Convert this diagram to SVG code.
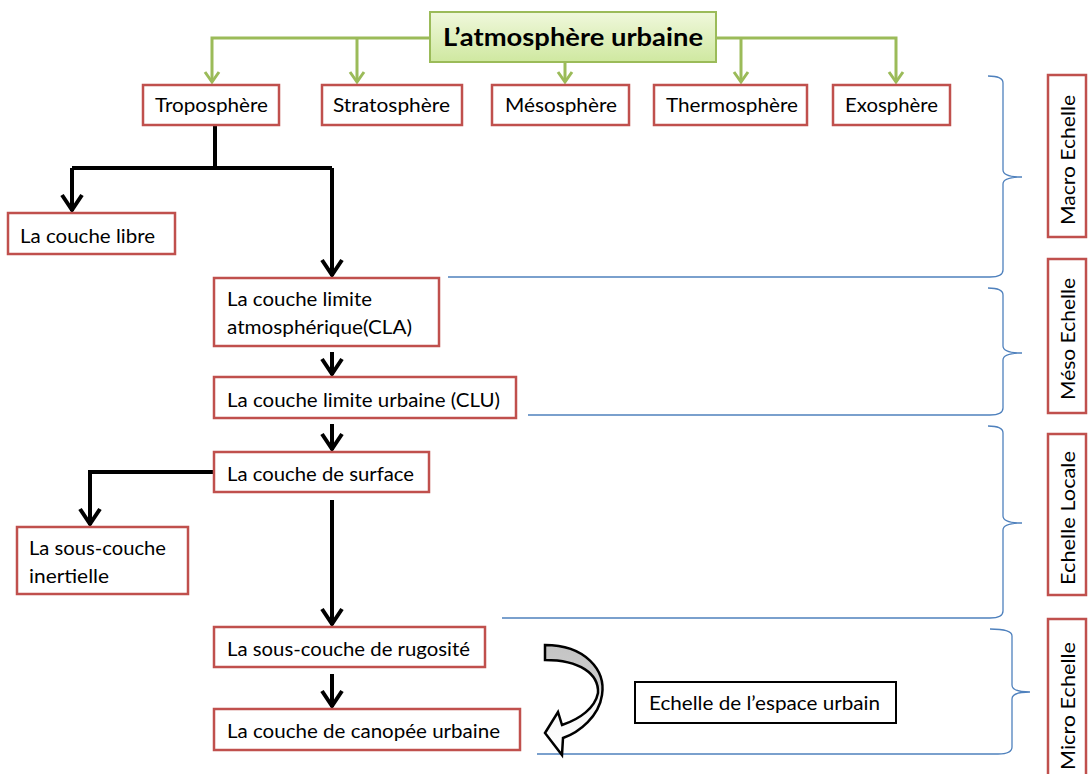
<svg xmlns="http://www.w3.org/2000/svg" width="1088" height="774" viewBox="0 0 1088 774">
<style>
.box{fill:#fff;stroke:#c0504d;stroke-width:2.5}
.t{font-family:Lato,"Open Sans","Liberation Sans",sans-serif;font-size:19.5px;fill:#000}
.title{font-family:Lato,"Open Sans","Liberation Sans",sans-serif;font-size:25px;font-weight:bold;fill:#000}
.g{fill:none;stroke:#9bbb59;stroke-width:3}
.k{fill:none;stroke:#000;stroke-width:4}
.b{fill:none;stroke:#4f81bd;stroke-width:1.3}
</style>
<defs>
<linearGradient id="gg" x1="0" y1="0" x2="0" y2="1">
<stop offset="0" stop-color="#f0f8dc"/><stop offset="1" stop-color="#cfe8a0"/>
</linearGradient>
<linearGradient id="ga" x1="0" y1="0" x2="0" y2="1">
<stop offset="0" stop-color="#c4c4c4"/><stop offset="0.35" stop-color="#cccccc"/><stop offset="0.5" stop-color="#f4f4f4"/><stop offset="1" stop-color="#ffffff"/>
</linearGradient>
<marker id="ag" markerUnits="userSpaceOnUse" markerWidth="20" markerHeight="20" refX="0" refY="0" orient="auto" overflow="visible">
<path d="M-10,-7 L0,0 L-10,7" fill="none" stroke="#9bbb59" stroke-width="3"/>
</marker>
<marker id="ak" markerUnits="userSpaceOnUse" markerWidth="30" markerHeight="30" refX="0" refY="0" orient="auto" overflow="visible">
<path d="M-16,-10 L-1,0 L-16,10" fill="none" stroke="#000" stroke-width="4"/>
</marker>
</defs>
<rect width="1088" height="774" fill="#fff"/>

<g id="connectors">
<path class="g" d="M430,38 H212 V82" marker-end="url(#ag)"/>
<path class="g" d="M357,38 V82" marker-end="url(#ag)"/>
<path class="g" d="M565,62 V82" marker-end="url(#ag)"/>
<path class="g" d="M716,38 H896 V82" marker-end="url(#ag)"/>
<path class="g" d="M741,38 V82" marker-end="url(#ag)"/>
<path class="k" d="M215,125 V168"/>
<path class="k" d="M72,168 H332"/>
<path class="k" d="M72,168 V211" marker-end="url(#ak)"/>
<path class="k" d="M332,168 V276" marker-end="url(#ak)"/>
<path class="k" d="M332,352 V375" marker-end="url(#ak)"/>
<path class="k" d="M332,424 V450" marker-end="url(#ak)"/>
<path class="k" d="M214,472 H90 V525" marker-end="url(#ak)"/>
<path class="k" d="M332,500 V625" marker-end="url(#ak)"/>
<path class="k" d="M332,674 V707" marker-end="url(#ak)"/>
</g>

<g id="braces">
<path class="b" d="M988,76 Q1003,76 1003,83 V170 Q1003,177 1022,177 Q1003,177 1003,184 V270 Q1003,277 990,277 H448"/>
<path class="b" d="M988,288 Q1003,288 1003,295 V346 Q1003,353 1022,353 Q1003,353 1003,360 V408 Q1003,415 990,415 H528"/>
<path class="b" d="M988,426 Q1003,426 1003,433 V516 Q1003,523 1022,523 Q1003,523 1003,530 V611 Q1003,618 990,618 H502"/>
<path class="b" d="M990,629 Q1012,629 1012,636 V685 Q1012,692 1030,692 Q1012,692 1012,699 V747 Q1012,754 998,754 H537"/>
</g>

<g id="title">
<rect x="430" y="12" width="286" height="50" fill="url(#gg)" stroke="#9bbb59" stroke-width="2"/>
<text class="title" x="443" y="46" textLength="260" lengthAdjust="spacingAndGlyphs">L’atmosphère urbaine</text>
</g>
<g id="troposphere"><rect class="box" x="143" y="85" width="136" height="40"/><text class="t" x="155" y="112" textLength="113" lengthAdjust="spacingAndGlyphs">Troposphère</text></g>
<g id="stratosphere"><rect class="box" x="322" y="85" width="140" height="40"/><text class="t" x="333" y="112" textLength="117" lengthAdjust="spacingAndGlyphs">Stratosphère</text></g>
<g id="mesosphere"><rect class="box" x="492" y="85" width="137" height="40"/><text class="t" x="505" y="112" textLength="112" lengthAdjust="spacingAndGlyphs">Mésosphère</text></g>
<g id="thermosphere"><rect class="box" x="654" y="85" width="153" height="40"/><text class="t" x="666" y="112" textLength="132" lengthAdjust="spacingAndGlyphs">Thermosphère</text></g>
<g id="exosphere"><rect class="box" x="833" y="85" width="117" height="40"/><text class="t" x="845" y="112" textLength="93" lengthAdjust="spacingAndGlyphs">Exosphère</text></g>

<g id="couche-libre"><rect class="box" x="8" y="213" width="167" height="41"/><text class="t" x="20" y="243" textLength="135" lengthAdjust="spacingAndGlyphs">La couche libre</text></g>
<g id="cla"><rect class="box" x="214" y="278" width="225" height="68"/><text class="t" x="227" y="306" textLength="145" lengthAdjust="spacingAndGlyphs">La couche limite</text><text class="t" x="227" y="334" textLength="185" lengthAdjust="spacingAndGlyphs">atmosphérique(CLA)</text></g>
<g id="clu"><rect class="box" x="214" y="377" width="302" height="41"/><text class="t" x="227" y="407" textLength="273" lengthAdjust="spacingAndGlyphs">La couche limite urbaine (CLU)</text></g>
<g id="surface"><rect class="box" x="214" y="452" width="215" height="40"/><text class="t" x="227" y="481" textLength="187" lengthAdjust="spacingAndGlyphs">La couche de surface</text></g>
<g id="inertielle"><rect class="box" x="17" y="527" width="171" height="67"/><text class="t" x="29" y="555" textLength="137" lengthAdjust="spacingAndGlyphs">La sous-couche</text><text class="t" x="29" y="583" textLength="80" lengthAdjust="spacingAndGlyphs">inertielle</text></g>
<g id="rugosite"><rect class="box" x="214" y="627" width="271" height="40"/><text class="t" x="227" y="656" textLength="243" lengthAdjust="spacingAndGlyphs">La sous-couche de rugosité</text></g>
<g id="canopee"><rect class="box" x="214" y="709" width="306" height="41"/><text class="t" x="227" y="738" textLength="273" lengthAdjust="spacingAndGlyphs">La couche de canopée urbaine</text></g>

<g id="curved-arrow">
<path d="M545,645 C585,645 606,670 602,695 C599,716 580,732 563,738 L562,755 L545,733 L558,712 L562,725 C580,719 595,708 598,693 C599,674 580,660 545,660 Z" fill="url(#ga)" stroke="#000" stroke-width="2.5" stroke-linejoin="miter"/>
</g>
<g id="espace-urbain"><rect x="635" y="682" width="261" height="41" fill="#fff" stroke="#000" stroke-width="2"/><text class="t" x="649" y="710" textLength="231" lengthAdjust="spacingAndGlyphs">Echelle de l’espace urbain</text></g>

<g id="macro"><rect class="box" x="1048" y="75" width="38" height="162"/><text class="t" transform="translate(1075,160) rotate(-90)" text-anchor="middle" textLength="130" lengthAdjust="spacingAndGlyphs">Macro Echelle</text></g>
<g id="meso"><rect class="box" x="1048" y="259" width="38" height="154"/><text class="t" transform="translate(1075,339) rotate(-90)" text-anchor="middle" textLength="122" lengthAdjust="spacingAndGlyphs">Méso Echelle</text></g>
<g id="locale"><rect class="box" x="1048" y="434" width="38" height="161"/><text class="t" transform="translate(1075,518) rotate(-90)" text-anchor="middle" textLength="134" lengthAdjust="spacingAndGlyphs">Echelle Locale</text></g>
<g id="micro"><rect class="box" x="1048" y="619" width="38" height="165"/><text class="t" transform="translate(1075,706) rotate(-90)" text-anchor="middle" textLength="128" lengthAdjust="spacingAndGlyphs">Micro Echelle</text></g>
</svg>
